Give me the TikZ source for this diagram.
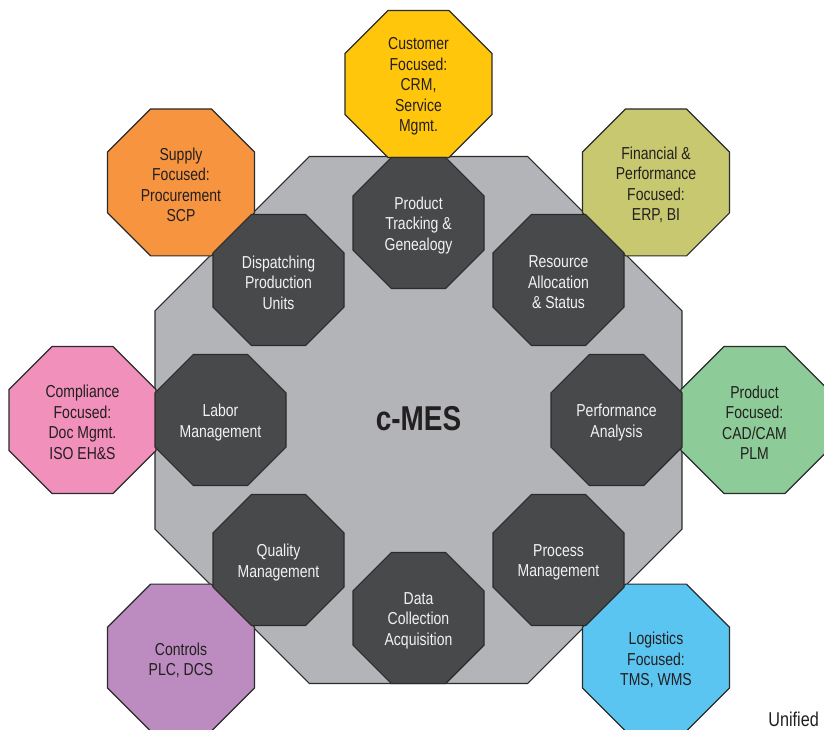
\documentclass[tikz,border=0pt]{standalone}
\usepackage{fontspec}
\setmainfont{Liberation Sans}[FakeStretch=0.81]
\usetikzlibrary{shapes.geometric}

\definecolor{hubgray}{HTML}{B3B4B7}
\definecolor{cellgray}{HTML}{48494B}
\definecolor{rimline}{HTML}{2B2B2D}
\definecolor{inktext}{HTML}{231F20}
\definecolor{cellText}{HTML}{F2F2F2}
\definecolor{cYellow}{HTML}{FFC60B}
\definecolor{cOrange}{HTML}{F79440}
\definecolor{cOlive}{HTML}{C8C870}
\definecolor{cPink}{HTML}{F190BB}
\definecolor{cGreen}{HTML}{8DCC98}
\definecolor{cPurple}{HTML}{BC8BBF}
\definecolor{cBlue}{HTML}{5BC5F1}

\tikzset{
  octo/.style={regular polygon, regular polygon sides=8, inner sep=0pt,
    outer sep=0pt, draw=rimline, line width=1.2pt},
  hub/.style={octo, fill=hubgray, minimum size=570.4pt},
  cell/.style={octo, fill=cellgray, minimum size=141.8pt},
  outer/.style={octo, minimum size=159.1pt, fill=#1},
  words/.style={align=center, inner sep=0pt, yshift=-2.5pt,
    font=\fontsize{17.3}{20.5}\selectfont},
  cellwords/.style={words, text=cellText},
  outerwords/.style={words, text=inktext},
}

\begin{document}
\begin{tikzpicture}[x=1pt, y=-1pt]
  \clip (0,0) rectangle (824,729);
  \fill[white] (0,0) rectangle (824,729);

  % central c-MES block
  \node[hub] (hub) at (418.5,420) {};
  \node[font=\fontsize{34.5}{40}\bfseries\selectfont, text=inktext] (title) at (418.5,419) {c-MES};

  % surrounding systems
  \node[outer=cYellow] (cust) at (418.5,84) {};
  \node[outer=cOlive]  (fin)  at (656,182.4) {};
  \node[outer=cGreen]  (prod) at (754.5,420) {};
  \node[outer=cBlue]   (logi) at (656,657.6) {};
  \node[outer=cPurple] (ctrl) at (181,657.6) {};
  \node[outer=cPink]   (comp) at (82.5,420) {};
  \node[outer=cOrange] (supp) at (181,182.4) {};

  \node[outerwords] (custT) at (cust.center) {Customer\\Focused:\\CRM,\\Service\\Mgmt.};
  \node[outerwords] (finT)  at (fin.center)  {Financial \&\\Performance\\Focused:\\ERP, BI};
  \node[outerwords] (prodT) at (prod.center) {Product\\Focused:\\CAD/CAM\\PLM};
  \node[outerwords] (logiT) at (logi.center) {Logistics\\Focused:\\TMS, WMS};
  \node[outerwords] (ctrlT) at (ctrl.center) {Controls\\PLC, DCS};
  \node[outerwords] (compT) at (comp.center) {Compliance\\Focused:\\Doc Mgmt.\\ISO EH\&S};
  \node[outerwords] (suppT) at (supp.center) {Supply\\Focused:\\Procurement\\SCP};

  % MES functions
  \node[cell] (track) at (418.5,223) {};
  \node[cell] (res)   at (558.5,280) {};
  \node[cell] (perf)  at (616.5,420) {};
  \node[cell] (proc)  at (558.5,560) {};
  \node[cell] (data)  at (418.5,618) {};
  \node[cell] (qual)  at (278.5,560) {};
  \node[cell] (labor) at (220.5,420) {};
  \node[cell] (disp)  at (278.5,280) {};

  \node[cellwords] (trackT) at (track.center) {Product\\Tracking \&\\Genealogy};
  \node[cellwords] (resT)   at (res.center)   {Resource\\Allocation\\\& Status};
  \node[cellwords] (perfT)  at (perf.center)  {Performance\\Analysis};
  \node[cellwords] (procT)  at (proc.center)  {Process\\Management};
  \node[cellwords] (dataT)  at (data.center)  {Data\\Collection\\Acquisition};
  \node[cellwords] (qualT)  at (qual.center)  {Quality\\Management};
  \node[cellwords] (laborT) at (labor.center) {Labor\\Management};
  \node[cellwords] (dispT)  at (disp.center)  {Dispatching\\Production\\Units};

  \node[anchor=base east, inner sep=0pt, text=inktext,
        font=\fontsize{20}{24}\selectfont] (tag) at (819,726) {Unified};
\end{tikzpicture}
\end{document}
